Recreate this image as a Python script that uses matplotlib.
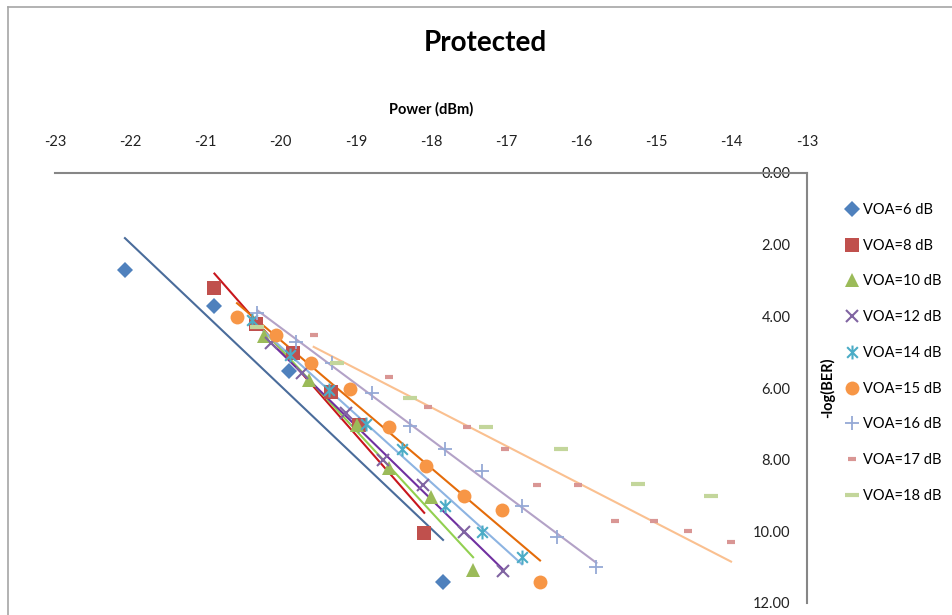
import numpy as np
import matplotlib
matplotlib.use('Agg')
import matplotlib.pyplot as plt
from matplotlib.path import Path
from matplotlib.lines import Line2D

plt.rcParams['font.family'] = ['Lato', 'DejaVu Sans']
plt.rcParams['axes.unicode_minus'] = False

# Data: power (dBm) and -log(BER) per VOA setting
labels = ['VOA=6 dB', 'VOA=8 dB', 'VOA=10 dB', 'VOA=12 dB', 'VOA=14 dB',
          'VOA=15 dB', 'VOA=16 dB', 'VOA=17 dB', 'VOA=18 dB']

p6 = [-22.07, -20.89, -19.89, -18.96, -17.84]
b6 = [2.71, 3.71, 5.53, 7.03, 11.41]
p8 = [-20.88, -20.33, -19.83, -19.33, -18.96, -18.09]
b8 = [3.21, 4.22, 5.03, 6.10, 7.03, 10.06]
p10 = [-20.22, -19.62, -18.99, -18.56, -18.00, -17.44]
b10 = [4.55, 5.78, 7.03, 8.24, 9.05, 11.08]
p12 = [-20.13, -19.71, -19.13, -18.64, -18.11, -17.56, -17.04]
b12 = [4.75, 5.59, 6.69, 8.01, 8.71, 10.01, 11.10]
p14 = [-20.38, -19.87, -19.36, -18.87, -18.39, -17.82, -17.32, -16.79]
b14 = [4.10, 5.08, 6.06, 7.00, 7.70, 9.29, 10.01, 10.71]
p15 = [-20.58, -20.06, -19.59, -19.08, -18.56, -18.06, -17.56, -17.06, -16.55]
b15 = [4.01, 4.52, 5.31, 6.04, 7.10, 8.17, 9.01, 9.41, 11.41]
p16 = [-20.31, -19.80, -19.31, -18.79, -18.28, -17.81, -17.32, -16.79, -16.32, -15.80]
b16 = [3.92, 4.71, 5.31, 6.15, 7.05, 7.70, 8.31, 9.29, 10.15, 11.00]
p17 = [-19.56, -18.56, -18.04, -17.52, -17.01, -16.59, -16.04, -15.55, -15.04, -14.58, -14.01]
b17 = [4.52, 5.70, 6.52, 7.08, 7.70, 8.71, 8.71, 9.70, 9.70, 9.99, 10.31]
p18 = [-20.31, -19.25, -18.28, -17.27, -16.27, -15.25, -14.28]
b18 = [4.29, 5.29, 6.29, 7.08, 7.70, 8.69, 9.01]

powers = [p6, p8, p10, p12, p14, p15, p16, p17, p18]
bers = [b6, b8, b10, b12, b14, b15, b16, b17, b18]

# asterisk marker like Excel's
star = Path([(-1, -1), (1, 1), (-1, 1), (1, -1), (0, -1.3), (0, 1.3)],
            [Path.MOVETO, Path.LINETO] * 3)

marker_colors = ['#4F81BD', '#C0504D', '#9BBB59', '#8064A2', '#4BACC6',
                 '#F79646', '#95A9D6', '#D99694', '#C3D69B']
trend_colors = ['#4A6C9B', '#C8161D', '#92D050', '#7030A0', '#8DB4E2',
                '#E46C0A', '#B3A2C7', '#FAC090', None]
markers = ['D', 's', '^', 'x', star, 'o', '+', '_', '_']
sizes = [8.5, 10, 10, 9, 10, 10, 10, 6, 10]
edge_w = [0, 0, 0, 1.5, 1.5, 0, 1.3, 3, 3]

fig = plt.figure(figsize=(9.52, 6.15), dpi=100)
ax = fig.add_axes([55 / 952, 1 - 603 / 615, 752 / 952, 430 / 615])

for i in range(len(labels)):
    x = np.array(powers[i])
    y = np.array(bers[i])
    m = markers[i]
    line_marker = m in ('x', '+', '_') or m is star
    ax.plot(x, y, linestyle='none', marker=m, markersize=sizes[i],
            color=marker_colors[i],
            markeredgewidth=edge_w[i] if line_marker else 0,
            label=labels[i], zorder=3)
    if trend_colors[i] is not None:
        k, c = np.polyfit(x, y, 1)
        xs = np.array([x.min(), x.max()])
        ax.plot(xs, k * xs + c, color=trend_colors[i], lw=1.5, zorder=2)

ax.set_xlim(-23, -13)
ax.set_ylim(12, 0)
ax.set_xticks(np.arange(-23, -12, 1))
ax.set_yticks(np.arange(0, 13, 2))
ax.set_yticklabels([f'{v:.2f}' for v in np.arange(0, 13, 2)])

ax.xaxis.tick_top()
ax.xaxis.set_label_position('top')
ax.tick_params(axis='x', length=0, pad=17, labelsize=10.5, colors='#222222')
ax.tick_params(axis='y', left=False, labelleft=False, right=True, labelright=True,
               direction='in', length=0, pad=-12, labelsize=10.5, colors='#222222')
for t in ax.get_yticklabels():
    t.set_horizontalalignment('right')

for s in ['left', 'bottom']:
    ax.spines[s].set_visible(False)
for s in ['top', 'right']:
    ax.spines[s].set_color('#868686')
    ax.spines[s].set_linewidth(1.5)

ax.set_xlabel('Power (dBm)', fontsize=10.5, fontweight='bold', labelpad=16)
ax.set_ylabel('-log(BER)', fontsize=10.5, fontweight='bold', rotation=90, va='center')
ax.yaxis.set_label_coords((828 - 55) / 752, 0.5)

fig.text(485 / 952, 1 - 43 / 615, 'Protected', ha='center', va='center',
         fontsize=20, fontweight='bold')

ax.legend(loc='upper left', bbox_to_anchor=(846 / 952, 1 - 203 / 615),
          bbox_transform=fig.transFigure, frameon=False, fontsize=10.5,
          handlelength=0.8, handletextpad=0.35, labelspacing=1.49,
          borderaxespad=0, borderpad=0)

# chart area border
fig.add_artist(Line2D([8 / 952, 8 / 952], [0, 1 - 7 / 615], color='#a6a6a6', lw=1.2))
fig.add_artist(Line2D([8 / 952, 1], [1 - 7 / 615, 1 - 7 / 615], color='#a6a6a6', lw=1.2))

fig.savefig('out.png', dpi=100)
